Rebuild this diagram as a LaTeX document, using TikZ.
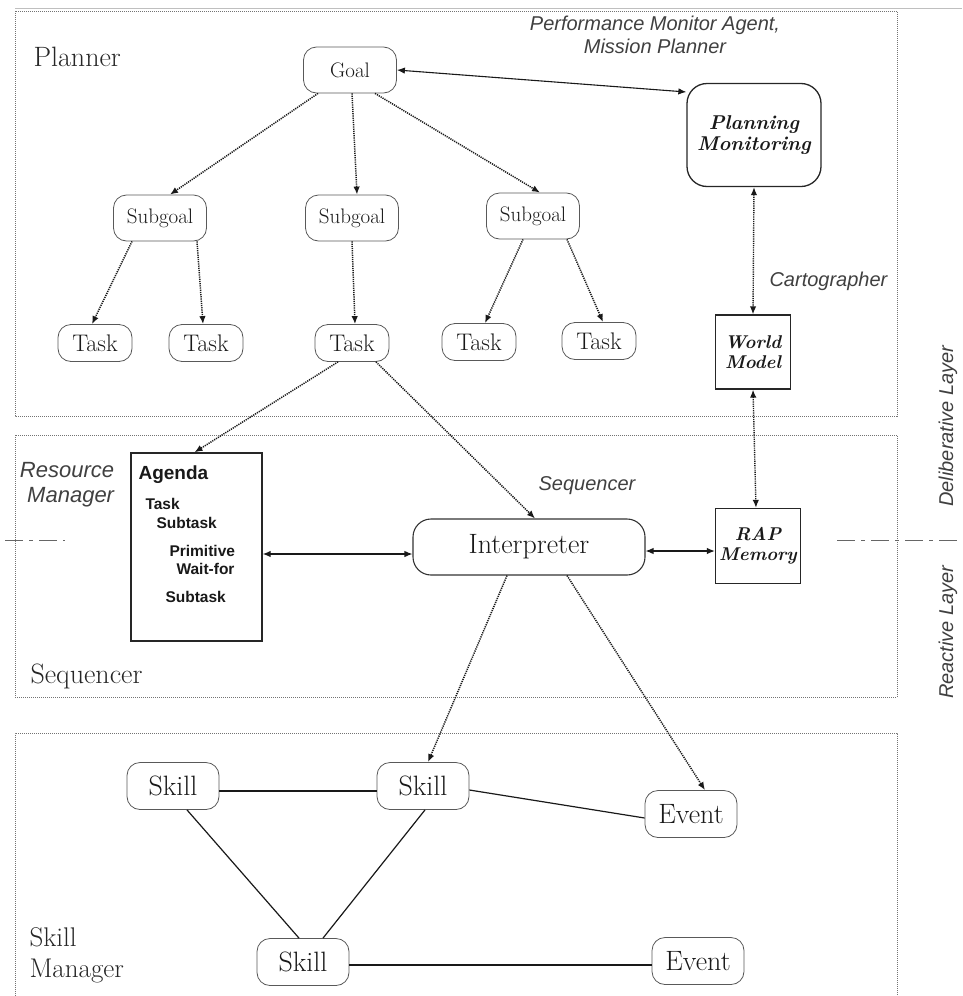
\documentclass[tikz,border=0pt]{standalone}
\usepackage{fontspec}
\newfontfamily\lsans{Liberation Sans}
\usetikzlibrary{arrows.meta,calc}
\begin{document}
\begin{tikzpicture}[x=1pt,y=-1pt,
  rnode/.style={draw=black!65, line width=0.8pt, rounded corners=13pt, inner sep=0pt, text=black!90},
  nodeA/.style={rnode, minimum width=93pt, minimum height=46pt, font=\fontsize{21}{23}\selectfont},
  taskn/.style={rnode, minimum width=74pt, minimum height=37pt, font=\fontsize{24}{26}\selectfont},
  skilln/.style={rnode, minimum width=92pt, minimum height=47pt, font=\fontsize{28}{30}\selectfont},
  boldbox/.style={draw=black!85, line width=1.3pt, inner sep=0pt, text=black!90, align=center},
  layerbox/.style={draw=black!55, line width=0.6pt, dash pattern=on 1pt off 1pt},
  dotarr/.style={draw=black!90, line width=1.5pt, dash pattern=on 1.2pt off 1pt, -{Latex[length=8pt,width=6.5pt]}},
  dotarrb/.style={draw=black!90, line width=1.4pt, dash pattern=on 1.2pt off 1pt, {Latex[length=8pt,width=6.5pt]}-{Latex[length=8pt,width=6.5pt]}},
  solarrb/.style={draw=black!90, line width=1.2pt, {Latex[length=8pt,width=6.5pt]}-{Latex[length=8pt,width=6.5pt]}},
  solline/.style={draw=black!90, line width=1.2pt},
  itlab/.style={text=black!75, font=\lsans\itshape\fontsize{20}{23}\selectfont, align=center},
  serlab/.style={text=black!85, font=\fontsize{28}{31}\selectfont, align=left},
  sepline/.style={draw=black!60, line width=0.8pt, dash pattern=on 18pt off 6pt on 4pt off 6pt}
]
\useasboundingbox (0,0) rectangle (962,996);
\draw[black!25, line width=1pt] (15,8) -- (962,8);

% layer boxes
\draw[layerbox] (15,11) rectangle (897,416);
\draw[layerbox] (15,435) rectangle (897,697);
\draw[layerbox] (15,1000) -- (15,733) -- (897,733) -- (897,1000);

% dash-dot separators
\draw[sepline] (5,540) -- (65,540);
\draw[sepline] (837,540) -- (962,540);

% labels
\node[serlab, anchor=base west] (lplanner) at (30,66) {Planner};
\node[serlab, anchor=base west] (lseq) at (27,683) {Sequencer};
\node[serlab, anchor=west, align=left, font=\fontsize{27}{31}\selectfont] (lskill) at (26,955) {Skill\\Manager};
\node[itlab] (lpma) at (655,35) {Performance Monitor Agent,\\Mission Planner};
\node[itlab, anchor=west] (lcart) at (766,281) {Cartographer};
\node[itlab, align=right, font=\lsans\itshape\fontsize{22}{25}\selectfont] (lres) at (67,485) {Resource\\Manager};
\node[itlab] (lseqi) at (587,486) {Sequencer};
\node[itlab, rotate=90] (ldel) at (948,426) {Deliberative Layer};
\node[itlab, rotate=90] (lrea) at (948,632) {Reactive Layer};

% planner nodes
\node[nodeA] (goal) at (350,70) {Goal};
\node[nodeA] (subL) at (160,218) {Subgoal};
\node[nodeA] (subM) at (352,218) {Subgoal};
\node[nodeA] (subR) at (533,216) {Subgoal};
\node[taskn] (t1) at (95,343) {Task};
\node[taskn] (t2) at (206,343) {Task};
\node[taskn] (t3) at (352,343) {Task};
\node[taskn] (t4) at (479,342) {Task};
\node[taskn] (t5) at (599,341) {Task};
\node[boldbox, rounded corners=20pt, minimum width=134pt, minimum height=103pt, font=\bfseries\itshape\fontsize{20}{21}\selectfont] (pm) at (754,135) {Planning\\Monitoring};
\node[boldbox, minimum width=75pt, minimum height=74pt, font=\bfseries\itshape\fontsize{18.5}{20}\selectfont] (wm) at (753,352) {World\\Model};

% sequencer nodes
\node[boldbox, minimum width=131pt, minimum height=188pt] (agenda) at (196.5,547) {};
\node[anchor=west, font=\lsans\bfseries\fontsize{19}{21}\selectfont, text=black!90] (ag0) at (135,475) {Agenda};
\node[anchor=west, font=\lsans\bfseries\fontsize{15.5}{17}\selectfont, text=black!90] (ag1) at (142,504) {Task};
\node[anchor=west, font=\lsans\bfseries\fontsize{15.5}{17}\selectfont, text=black!90] (ag2) at (153,523) {Subtask};
\node[anchor=west, font=\lsans\bfseries\fontsize{15.5}{17}\selectfont, text=black!90] (ag3) at (166,551) {Primitive};
\node[anchor=west, font=\lsans\bfseries\fontsize{15.5}{17}\selectfont, text=black!90] (ag4) at (173,569) {Wait-for};
\node[anchor=west, font=\lsans\bfseries\fontsize{15.5}{17}\selectfont, text=black!90] (ag5) at (162,597) {Subtask};
\node[boldbox, draw=black!80, line width=1.1pt, rounded corners=18pt, minimum width=232pt, minimum height=56pt, font=\fontsize{28}{30}\selectfont] (interp) at (529,547) {Interpreter};
\node[boldbox, minimum width=85pt, minimum height=75pt, font=\bfseries\itshape\fontsize{18.5}{20}\selectfont] (rap) at (758,546) {RAP\\Memory};

% skill nodes
\node[skilln] (skill1) at (173,786) {Skill};
\node[skilln] (skill2) at (423,786) {Skill};
\node[skilln] (event1) at (691,814) {Event};
\node[skilln] (skill3) at (303,962) {Skill};
\node[skilln] (event2) at (698,961) {Event};

% connectors
\draw[solarrb, line width=1.1pt] (goal.east) -- ($(pm.west)+(0,-43)$);
\draw[dotarr] ($(goal.south)+(-32,0)$) -- ($(subL.north)+(10,0)$);
\draw[dotarr] ($(goal.south)+(2,0)$) -- ($(subM.north)+(5,0)$);
\draw[dotarr] ($(goal.south)+(25,0)$) -- ($(subR.north)+(7,0)$);
\draw[dotarr] ($(subL.south)+(-28,0)$) -- ($(t1.north)+(-3,0)$);
\draw[dotarr] ($(subL.south)+(37,0)$) -- ($(t2.north)+(-3,0)$);
\draw[dotarr] (subM.south) -- ($(t3.north)+(3,0)$);
\draw[dotarr] ($(subR.south)+(-10,0)$) -- ($(t4.north)+(6,0)$);
\draw[dotarr] ($(subR.south)+(34,0)$) -- ($(t5.north)+(4,0)$);
\draw[dotarrb] (pm.south) -- (wm.north);
\draw[dotarrb] (wm.south) -- ($(rap.north)+(-2,0)$);
\draw[dotarr] ($(t3.south)+(-14,0)$) -- ($(agenda.north)+(-2,0)$);
\draw[dotarr] ($(t3.south)+(24,0)$) -- ($(interp.north)+(6,0)$);
\draw[solarrb] ($(agenda.east)+(0,7)$) -- ($(interp.west)+(0,7)$);
\draw[solarrb] ($(interp.east)+(0,4)$) -- ($(rap.west)+(0,5)$);
\draw[dotarr] ($(interp.south)+(-22,0)$) -- ($(skill2.north)+(5,0)$);
\draw[dotarr] ($(interp.south)+(38,0)$) -- ($(event1.north)+(14,0)$);
\draw[solline] ($(skill1.east)+(0,5)$) -- ($(skill2.west)+(0,5)$);
\draw[solline] ($(skill2.east)+(0,4)$) -- ($(event1.west)+(0,4)$);
\draw[solline] ($(skill1.south)+(14,0)$) -- ($(skill3.north)+(-4,0)$);
\draw[solline] ($(skill2.south)+(2,0)$) -- ($(skill3.north)+(20,0)$);
\draw[solline] ($(skill3.east)+(0,3)$) -- ($(event2.west)+(0,4)$);
\end{tikzpicture}
\end{document}
